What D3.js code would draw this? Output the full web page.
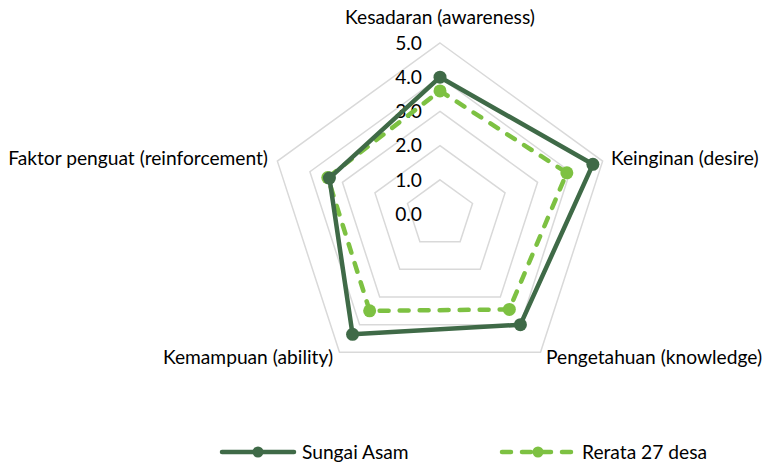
<!DOCTYPE html>
<html>
<head>
<meta charset="utf-8">
<script src="https://cdn.jsdelivr.net/npm/d3@7"></script>
<style>
  body { margin: 0; background: #fff; }
  text { font-family: Lato, sans-serif; fill: #000; }
</style>
</head>
<body>
<svg id="radar"></svg>
<script>
var categories = ["Kesadaran (awareness)", "Keinginan (desire)", "Pengetahuan (knowledge)", "Kemampuan (ability)", "Faktor penguat (reinforcement)"];
var sungaiAsam = [4.0, 4.7, 4.0, 4.35, 3.4];
var rerata = [3.6, 3.9, 3.45, 3.5, 3.45];
var ticks = [0, 1, 2, 3, 4, 5];

var width = 764, height = 463;
var cx = 440, cy = 214, R = 171;
var dark = "#3f6a47", light = "#7dc142";
var fontSize = "19.2px";
var dashPattern = "9,11";

var svg = d3.select("#radar").attr("width", width).attr("height", height);

var r = d3.scaleLinear().domain([0, 5]).range([0, R]);
var angle = d3.scaleLinear().domain([0, categories.length]).range([0, 2 * Math.PI]);

function pt(i, v) {
  var a = angle(i);
  return [cx + r(v) * Math.sin(a), cy - r(v) * Math.cos(a)];
}

// grid pentagons
var g = svg.append("g");
ticks.slice(1).forEach(function(t) {
  var pts = categories.map(function(c, i) { return pt(i, t); });
  g.append("polygon")
    .attr("points", pts.map(function(p) { return p.join(","); }).join(" "))
    .attr("fill", "none")
    .attr("stroke", "#d9d9d9")
    .attr("stroke-width", 1.5);
});

// tick labels
g.selectAll(".tick").data(ticks).enter().append("text")
  .attr("x", cx - 18)
  .attr("y", function(d) { return cy - r(d); })
  .attr("dy", "0.35em")
  .attr("text-anchor", "end")
  .style("font-size", fontSize)
  .text(function(d) { return d.toFixed(1); });

// category labels
var labelPos = [
  {x: cx, y: 17, anchor: "middle"},
  {x: 611, y: 158, anchor: "start"},
  {x: 546, y: 357, anchor: "start"},
  {x: 333, y: 357, anchor: "end"},
  {x: 268, y: 158, anchor: "end"}
];
g.selectAll(".cat").data(categories).enter().append("text")
  .attr("x", function(d, i) { return labelPos[i].x; })
  .attr("y", function(d, i) { return labelPos[i].y; })
  .attr("dy", "0.35em")
  .attr("text-anchor", function(d, i) { return labelPos[i].anchor; })
  .style("font-size", fontSize)
  .text(function(d) { return d; });

var line = d3.line().curve(d3.curveLinearClosed);

function drawSeries(vals, color, dash) {
  var pts = vals.map(function(v, i) { return pt(i, v); });
  svg.append("path")
    .attr("d", line(pts))
    .attr("fill", "none")
    .attr("stroke", color)
    .attr("stroke-width", 4.5)
    .attr("stroke-linejoin", "round")
    .attr("stroke-linecap", dash ? "round" : "butt")
    .attr("stroke-dasharray", dash || null);
  svg.selectAll(null).data(pts).enter().append("circle")
    .attr("cx", function(d) { return d[0]; })
    .attr("cy", function(d) { return d[1]; })
    .attr("r", 6.5)
    .attr("fill", color);
}

drawSeries(rerata, light, dashPattern);
drawSeries(sungaiAsam, dark);

// legend
var legend = [
  {name: "Sungai Asam", color: dark, dash: null, x: 222},
  {name: "Rerata 27 desa", color: light, dash: dashPattern, x: 502}
];
var lg = svg.selectAll(".leg").data(legend).enter().append("g")
  .attr("transform", function(d) { return "translate(" + d.x + ",452)"; });
lg.append("line")
  .attr("x1", 0).attr("x2", 72)
  .attr("stroke", function(d) { return d.color; })
  .attr("stroke-width", 4.5)
  .attr("stroke-linecap", "round")
  .attr("stroke-dasharray", function(d) { return d.dash; });
lg.append("circle")
  .attr("cx", 36).attr("r", 5.5)
  .attr("fill", function(d) { return d.color; });
lg.append("text")
  .attr("x", 80).attr("dy", "0.35em")
  .style("font-size", fontSize)
  .text(function(d) { return d.name; });
</script>
</body>
</html>
